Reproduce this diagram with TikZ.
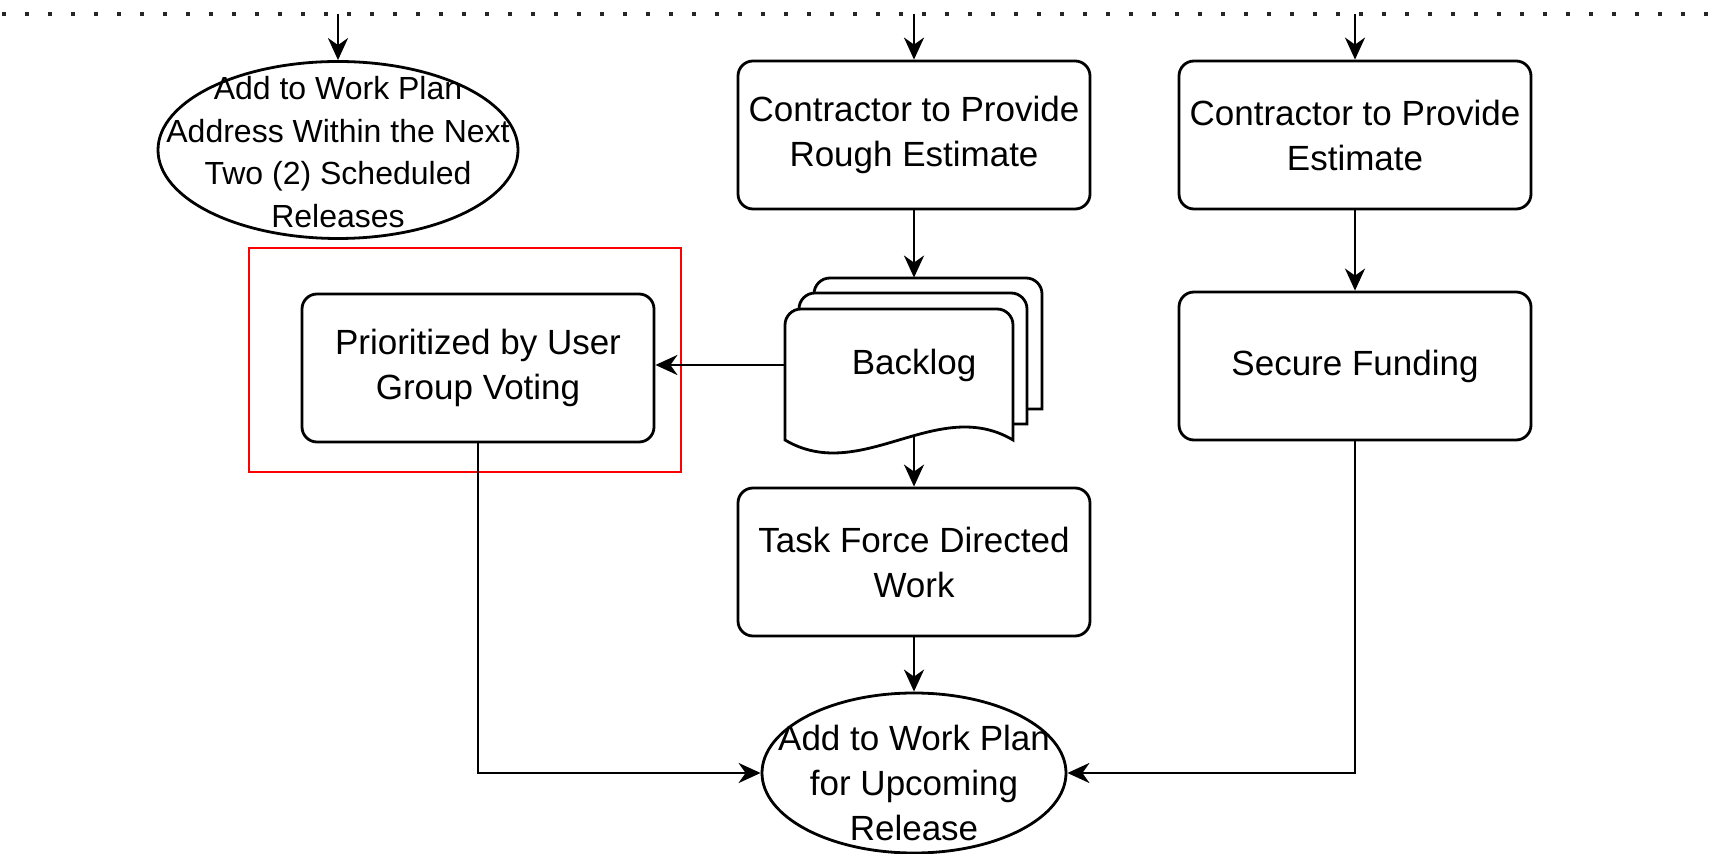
\documentclass[tikz,border=0pt]{standalone}
\usepackage{fontspec}
\setmainfont{Liberation Sans}
\usetikzlibrary{shapes.geometric,arrows.meta}

\begin{document}
\begin{tikzpicture}
   [x=0.5pt,y=-0.5pt,
    box/.style={draw, rounded corners=7.5pt, line width=1.4pt, minimum width=176pt, minimum height=74pt,
           align=center, font=\fontsize{17.5}{22.5}\selectfont},
    oval/.style={draw, ellipse, line width=1.4pt, inner sep=0pt},
    ovaltext/.style={align=center, inner sep=0pt},
    page/.style={draw, fill=white, line width=1.4pt},
    flow/.style={-{Stealth[length=11pt,width=10pt,inset=3.5pt]}, line width=1.4pt}]
\useasboundingbox (0,0) rectangle (1712,854);

% dotted lane border
\draw[black!85, line width=1.8pt, dash pattern=on 1.8pt off 9.7pt] (2,14) -- (1712,14);
\coordinate (inA) at (338,14);
\coordinate (inB) at (914,14);
\coordinate (inC) at (1355,14);

\node[oval, minimum width=180pt, minimum height=88.5pt] (addnext) at (338,150) {};
\node[ovaltext, font=\fontsize{16}{21.3}\selectfont] (addnext text) at (338,152)
   {Add to Work Plan\\Address Within the Next\\Two (2) Scheduled\\Releases};

\node[box] (rough) at (914,135) {Contractor to Provide\\Rough Estimate};
\node[box] (est) at (1355,135) {Contractor to Provide\\Estimate};
\node[box] (prior) at (478,368) {Prioritized by User\\Group Voting};
\node[box] (secure) at (1355,366) {Secure Funding};
\node[box] (task) at (914,562) {Task Force Directed\\Work};

% backlog: two pages behind, then the front page
\foreach \dx/\dy in {29/31,14/16}
  \draw[page, rounded corners=8pt] (785+\dx,440-\dy) -- (785+\dx,309-\dy) -- (1013+\dx,309-\dy)
        [sharp corners] -- (1013+\dx,440-\dy) -- cycle;
\draw[page] (1013,440) [rounded corners=8pt] -- (1013,309) -- (785,309) [sharp corners] -- (785,440)
        .. controls (861,485) and (937,395) .. (1013,440) -- cycle;
\node[minimum width=129pt, minimum height=87pt, font=\fontsize{17.5}{22.5}\selectfont] (backlog) at (914,365) {Backlog};
\coordinate (backlog out) at (914,436);

\node[oval, minimum width=152pt, minimum height=80pt] (release) at (914,773) {};
\node[ovaltext, font=\fontsize{17.5}{22.5}\selectfont] (release text) at (914,783)
   {Add to Work Plan\\for Upcoming\\Release};

\draw[red, line width=0.85pt] (249,248) rectangle (681,472);

\draw[flow] (inA) -- (addnext.north);
\draw[flow] (inB) -- (rough.north);
\draw[flow] (inC) -- (est.north);
\draw[flow] (rough.south) -- (rough.south |- backlog.north);
\draw[flow] (est.south) -- (secure.north);
\draw[flow] (backlog.west) -- (prior.east |- backlog.west);
\draw[flow] (backlog out) -- (task.north);
\draw[flow] (task.south) -- (release.north);
\draw[flow] (prior.south) |- (release.west);
\draw[flow] (secure.south) |- (release.east);
\end{tikzpicture}
\end{document}
